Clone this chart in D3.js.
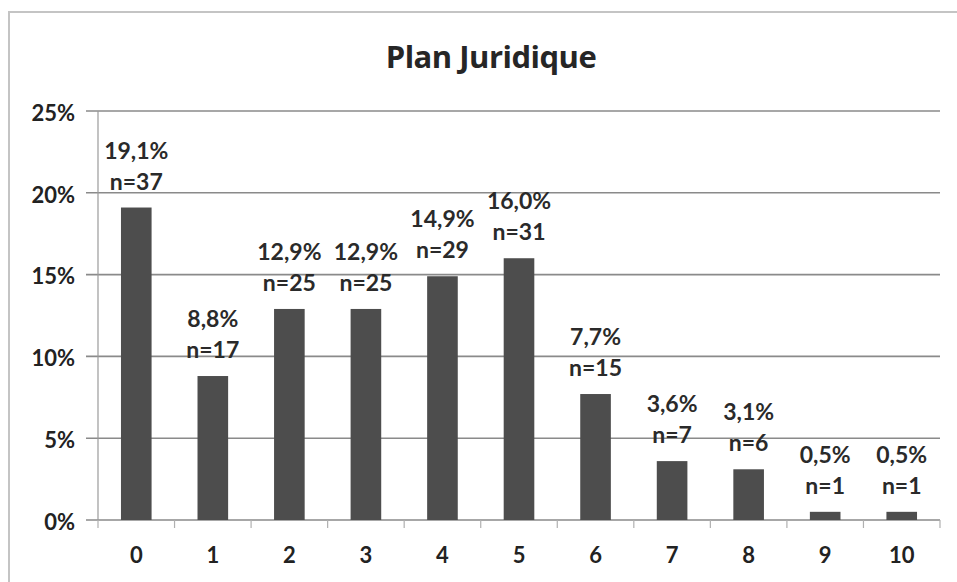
<!DOCTYPE html>
<html>
<head>
<meta charset="utf-8">
<script src="https://cdn.jsdelivr.net/npm/d3@7"></script>
<style>
  body { margin: 0; background: #fff; }
  svg { display: block; font-family: Lato, "Open Sans", sans-serif; }
</style>
</head>
<body>
<div id="chart"></div>
<script>
// chart values
var categories = ["0", "1", "2", "3", "4", "5", "6", "7", "8", "9", "10"];
var percents = [19.1, 8.8, 12.9, 12.9, 14.9, 16.0, 7.7, 3.6, 3.1, 0.5, 0.5];
var counts = [37, 17, 25, 25, 29, 31, 15, 7, 6, 1, 1];
var yTicks = [0, 5, 10, 15, 20, 25];
var title = "Plan Juridique";

var width = 957, height = 582;
var margin = {top: 111, right: 17, bottom: 62, left: 98};

var svg = d3.select('#chart').append('svg')
    .attr('width', width)
    .attr('height', height);

// outer frame of the chart area
svg.append('path')
    .attr('d', 'M9,' + height + 'V12H' + width)
    .attr('fill', 'none')
    .attr('stroke', '#c4c4c4')
    .attr('stroke-width', 2);

svg.append('text')
    .attr('x', 491)
    .attr('y', 68)
    .attr('text-anchor', 'middle')
    .style('font-family', '"Open Sans", sans-serif')
    .style('font-size', '31px')
    .style('font-weight', 'bold')
    .style('letter-spacing', '-0.5px')
    .style('fill', '#262626')
    .text(title);

var x = d3.scaleBand()
    .domain(categories)
    .range([margin.left, width - margin.right])
    .paddingInner(0.6)
    .paddingOuter(0.3);

var y = d3.scaleLinear()
    .domain([0, 25])
    .range([height - margin.bottom - 0, margin.top]);

// gridlines
svg.append('g')
    .selectAll('line')
    .data(yTicks)
    .enter().append('line')
    .attr('x1', margin.left - 12)
    .attr('x2', width - margin.right)
    .attr('y1', function(d) { return y(d); })
    .attr('y2', function(d) { return y(d); })
    .attr('stroke', '#8a8a8a')
    .attr('stroke-width', 1.6);

// y axis line
svg.append('line')
    .attr('x1', margin.left).attr('x2', margin.left)
    .attr('y1', y(25)).attr('y2', y(0))
    .attr('stroke', '#9a9a9a')
    .attr('stroke-width', 1.2);

var yAxis = d3.axisLeft(y)
    .tickValues(yTicks)
    .tickSize(0)
    .tickPadding(23)
    .tickFormat(function(d) { return d + '%'; });

svg.append('g')
    .attr('transform', 'translate(' + margin.left + ',0)')
    .call(yAxis)
    .call(function(g) { g.select('.domain').remove(); })
    .selectAll('text')
    .attr('dy', '0.42em')
    .style('font-size', '22px')
    .style('font-weight', 'bold')
    .style('font-family', 'Lato, sans-serif')
    .style('fill', '#222');

// x axis: ticks sit between categories
var step = x.step();
var xAxis = d3.axisBottom(x).tickSize(0).tickPadding(27);
var xg = svg.append('g')
    .attr('transform', 'translate(0,' + y(0) + ')')
    .call(xAxis);
xg.select('.domain').remove();
xg.selectAll('text')
    .attr('dy', '0.71em')
    .style('font-size', '22px')
    .style('font-weight', 'bold')
    .style('font-family', 'Lato, sans-serif')
    .style('fill', '#222');

xg.selectAll('.sep')
    .data(d3.range(categories.length + 1))
    .enter().append('line')
    .attr('class', 'sep')
    .attr('x1', function(i) { return margin.left + i * step; })
    .attr('x2', function(i) { return margin.left + i * step; })
    .attr('y1', 0)
    .attr('y2', 8)
    .attr('stroke', '#b0b0b0')
    .attr('stroke-width', 1.2);

// bars
svg.append('g')
    .selectAll('rect')
    .data(percents)
    .enter().append('rect')
    .attr('x', function(d, i) { return x(categories[i]); })
    .attr('y', function(d) { return y(d); })
    .attr('width', x.bandwidth())
    .attr('height', function(d) { return y(0) - y(d); })
    .attr('fill', '#4d4d4d');

// data labels: percent over count
var labels = svg.append('g')
    .style('font-size', '23px')
    .style('font-weight', 'bold')
    .style('fill', '#2a2a2a')
    .attr('text-anchor', 'middle');

labels.selectAll('.pct')
    .data(percents)
    .enter().append('text')
    .attr('class', 'pct')
    .attr('x', function(d, i) { return x(categories[i]) + x.bandwidth() / 2; })
    .attr('y', function(d) { return y(d) - 49; })
    .text(function(d) { return d.toFixed(1).replace('.', ',') + '%'; });

labels.selectAll('.cnt')
    .data(counts)
    .enter().append('text')
    .attr('class', 'cnt')
    .attr('x', function(d, i) { return x(categories[i]) + x.bandwidth() / 2; })
    .attr('y', function(d, i) { return y(percents[i]) - 18; })
    .text(function(d) { return 'n=' + d; });
</script>
</body>
</html>
